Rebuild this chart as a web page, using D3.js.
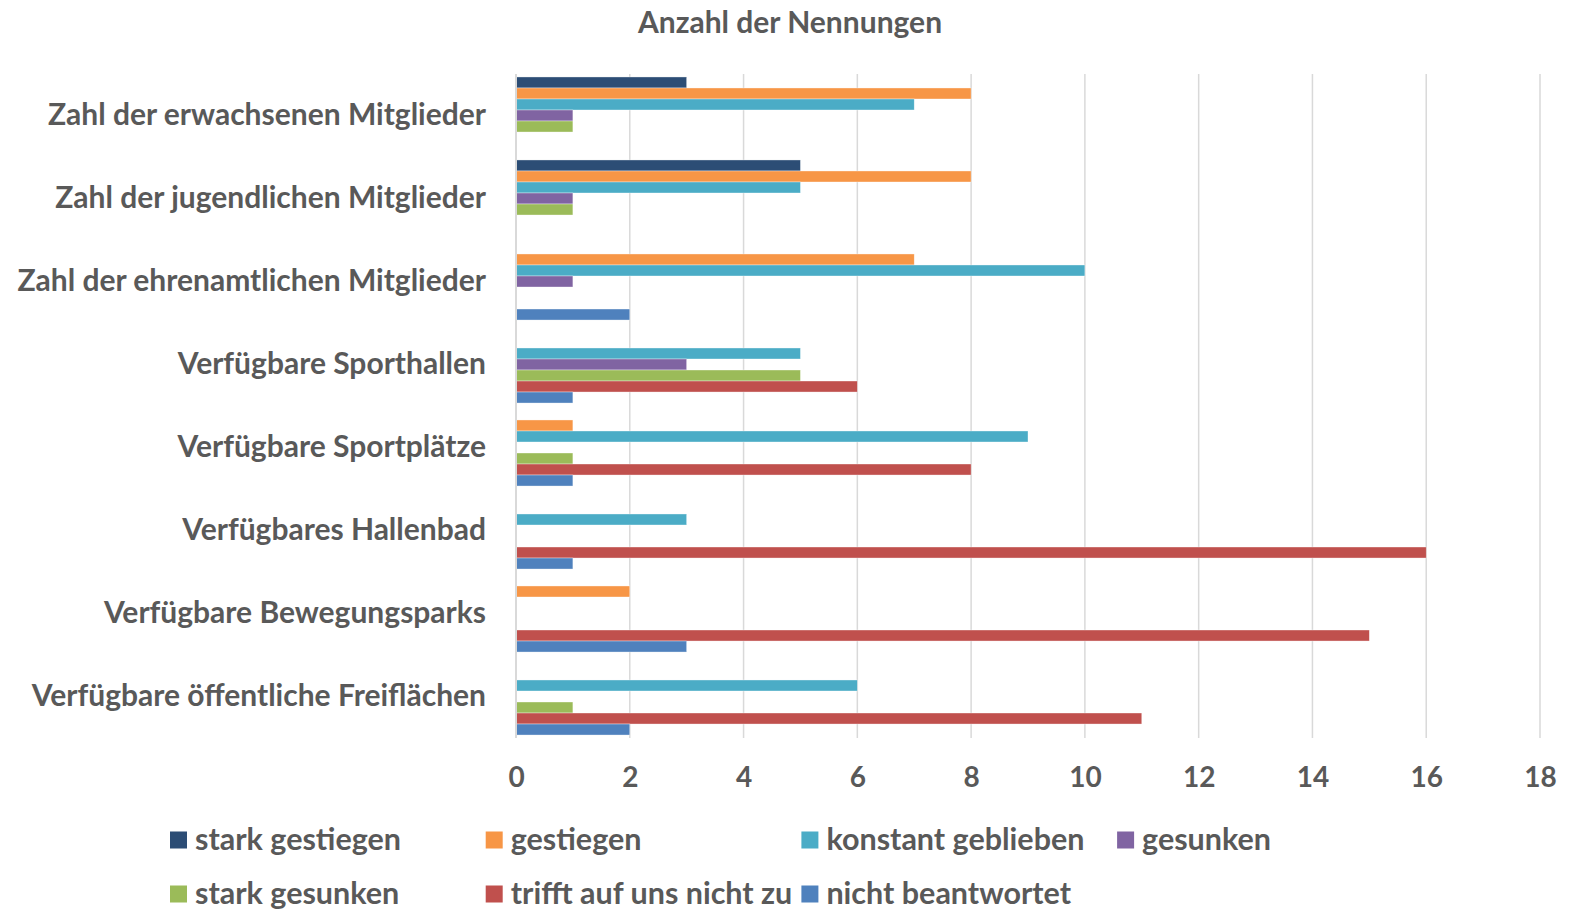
<!DOCTYPE html>
<html>
<head>
<meta charset="utf-8">
<script src="https://cdn.jsdelivr.net/npm/d3@7/dist/d3.min.js"></script>
<style>
  html, body { margin: 0; padding: 0; background: #fff; }
  svg { display: block; }
  text { font-family: Lato, "Open Sans", sans-serif; font-weight: 700; fill: #595959; }
</style>
</head>
<body>
<svg id="chart" width="1569" height="911"></svg>
<script>
const categories = [
  "Zahl der erwachsenen Mitglieder",
  "Zahl der jugendlichen Mitglieder",
  "Zahl der ehrenamtlichen Mitglieder",
  "Verfügbare Sporthallen",
  "Verfügbare Sportplätze",
  "Verfügbares Hallenbad",
  "Verfügbare Bewegungsparks",
  "Verfügbare öffentliche Freiflächen"
];
const seriesNames = [
  "stark gestiegen",
  "gestiegen",
  "konstant geblieben",
  "gesunken",
  "stark gesunken",
  "trifft auf uns nicht zu",
  "nicht beantwortet"
];
const starkGestiegen   = [3, 5, 0, 0, 0, 0, 0, 0];
const gestiegen        = [8, 8, 7, 0, 1, 0, 2, 0];
const konstant         = [7, 5, 10, 5, 9, 3, 0, 6];
const gesunken         = [1, 1, 1, 3, 0, 0, 0, 0];
const starkGesunken    = [1, 1, 0, 5, 1, 0, 0, 1];
const trifftNicht      = [0, 0, 0, 6, 8, 16, 15, 11];
const nichtBeantwortet = [0, 0, 2, 1, 1, 1, 3, 2];
const seriesValues = [starkGestiegen, gestiegen, konstant, gesunken, starkGesunken, trifftNicht, nichtBeantwortet];
const colors = ["#2C4D75", "#F79646", "#4BACC6", "#8064A2", "#9BBB59", "#C0504D", "#4F81BD"];
const xTicks = [0, 2, 4, 6, 8, 10, 12, 14, 16, 18];
const title = "Anzahl der Nennungen";

const svg = d3.select("#chart");

const x = d3.scaleLinear().domain([0, 18]).range([516, 1540]);
const y = d3.scaleBand().domain(categories).range([74, 738]).padding(0);
const sub = d3.scaleBand().domain(seriesNames).range([0, y.bandwidth()]).paddingInner(0).paddingOuter(0.27);

// gridlines
svg.append("g")
  .selectAll("line")
  .data(xTicks)
  .join("line")
  .attr("x1", d => x(d)).attr("x2", d => x(d))
  .attr("y1", 74).attr("y2", 738)
  .attr("stroke", "#D9D9D9")
  .attr("stroke-width", 1.5);

// bars
const rows = [];
categories.forEach((c, ci) => {
  seriesNames.forEach((s, si) => {
    rows.push({ cat: c, series: s, value: seriesValues[si][ci], color: colors[si] });
  });
});
svg.append("g")
  .selectAll("rect")
  .data(rows.filter(d => d.value > 0))
  .join("rect")
  .attr("x", x(0))
  .attr("y", d => y(d.cat) + sub(d.series))
  .attr("width", d => x(d.value) - x(0))
  .attr("height", sub.bandwidth())
  .attr("fill", d => d.color)
  .attr("stroke", "#ffffff")
  .attr("stroke-opacity", 0.6)
  .attr("stroke-width", 0.6);

// x axis labels
const xAxis = d3.axisBottom(x).tickValues(xTicks).tickSize(0).tickPadding(0).tickFormat(d3.format("d"));
const gx = svg.append("g").attr("transform", "translate(0,738)").call(xAxis);
gx.select(".domain").remove();
gx.selectAll("text")
  .attr("y", 39)
  .attr("dy", "0.36em")
  .style("font-size", "28px")
  .style("font-family", "Lato, sans-serif")
  .style("font-weight", 700)
  .attr("fill", "#595959");

// y axis category labels
const yAxis = d3.axisLeft(y).tickSize(0).tickPadding(0);
const gy = svg.append("g").attr("transform", "translate(486,0)").call(yAxis);
gy.select(".domain").remove();
gy.selectAll("text")
  .attr("x", 0)
  .attr("dy", "0.3em")
  .style("font-size", "30px")
  .style("font-family", "Lato, sans-serif")
  .style("font-weight", 700)
  .attr("fill", "#595959");

// axis line at 0
svg.append("line")
  .attr("x1", x(0)).attr("x2", x(0))
  .attr("y1", 74).attr("y2", 738)
  .attr("stroke", "#D9D9D9").attr("stroke-width", 2);

// title
svg.append("text")
  .attr("x", 790).attr("y", 22)
  .attr("text-anchor", "middle")
  .attr("dy", "0.36em")
  .style("font-size", "30px")
  .text(title);

// legend
const legend = svg.append("g");
const items = legend.selectAll("g")
  .data(seriesNames.map((s, i) => ({ name: s, color: colors[i], i })))
  .join("g")
  .attr("transform", d => `translate(${170 + (d.i % 4) * 315.7},${d.i < 4 ? 840 : 894})`);
items.append("rect")
  .attr("x", 0).attr("y", -8.5)
  .attr("width", 17).attr("height", 17)
  .attr("fill", d => d.color);
items.append("text")
  .attr("x", 25).attr("y", 0)
  .attr("dy", "0.34em")
  .style("font-size", "30.5px")
  .text(d => d.name);
</script>
</body>
</html>
